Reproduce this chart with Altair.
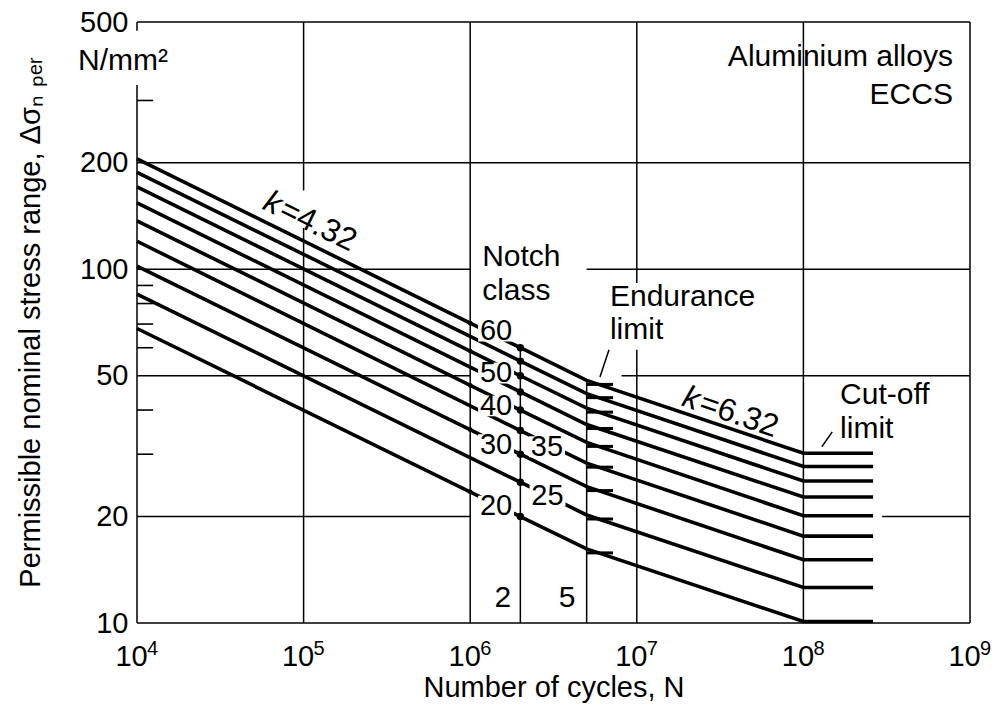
import altair as alt
import pandas as pd

FONT = "Liberation Sans"

# Notch classes: stress range (N/mm²) at 2·10^6 cycles
classes = [60, 55, 50, 45, 40, 35, 30, 25, 20]
# stress range of each class curve at its corner points
s_start = [205, 188, 171, 154, 137, 120, 102, 85, 68]                  # N = 10^4
s_endurance = [48.5, 44.5, 40.5, 36.4, 32.4, 28.3, 24.3, 20.2, 16.2]    # N = 5·10^6
s_cutoff = [30.2, 27.7, 25.2, 22.7, 20.1, 17.6, 15.1, 12.6, 10.1]       # N = 10^8
n_start, n_class, n_endurance, n_cutoff, n_end = 1e4, 2e6, 5e6, 1e8, 2.62e8

# curves whose class number is printed left of the 2·10^6 line
labeled = [60, 50, 40, 30, 20]
s_labeled_1e6 = [70.4, 58.7, 47.0, 35.2, 23.5]

x_ticks = [1e4, 1e5, 1e6, 1e7, 1e8, 1e9]
x_exponents = ["4", "5", "6", "7", "8", "9"]
y_ticks = [10, 20, 50, 100, 200, 500]
y_minor = [30, 40, 60, 70, 80, 90, 300]

# grid and frame pieces (n1, n2, s1, s2)
seg_n1 = [1e4, 1e4, 5e6, 1e4, 8.1e6, 1e4, 2.97e8,
          1e5, 1e5, 1e6, 1e7, 1e7, 1e8, 2e6, 5e6,
          1e4, 1e9, 1e4, 1e4, 1e4]
seg_n2 = [1e9, 1e6, 1e9, 1e6, 1e9, 1e6, 1e9,
          1e5, 1e5, 1e6, 1e7, 1e7, 1e8, 2e6, 5e6,
          1e9, 1e9, 1e9, 1e4, 1e4]
seg_s1 = [200, 100, 100, 50, 50, 20, 20,
          10, 167, 10, 10, 91.4, 10, 10, 10,
          500, 10, 10, 10, 472]
seg_s2 = [200, 100, 100, 50, 50, 20, 20,
          130.9, 500, 500, 59.2, 500, 500, 60, 48.5,
          500, 500, 10, 332, 500]

# leader strokes for "Endurance limit" and "Cut-off limit"
lead_n1 = [6.01e6, 1.29e8]
lead_n2 = [6.81e6, 1.49e8]
lead_s1 = [49.6, 31.5]
lead_s2 = [59.2, 34.7]

# class numbers printed on the curves
cl_text = ["60", "50", "40", "30", "20", "35", "25"]
cl_n = [1.43e6, 1.43e6, 1.43e6, 1.43e6, 1.43e6, 2.89e6, 2.91e6]
cl_s = [66.9, 50.9, 41.1, 31.9, 21.4, 31.5, 22.9]

# free annotations, left aligned
left_text = ["Notch", "class", "Endurance", "limit", "Cut-off", "limit", "N/mm²"]
left_n = [1.18e6, 1.18e6, 6.9e6, 6.9e6, 1.66e8, 1.66e8, 4430]
left_s = [108.3, 86.8, 83.5, 67.3, 44.1, 35.4, 388]
# right aligned
right_text = ["Aluminium alloys", "ECCS"]
right_n = [7.9e8, 7.9e8]
right_s = [397, 311]
# centred
mid_text = ["2", "5"]
mid_n = [1.57e6, 3.81e6]
mid_s = [11.77, 11.77]

xs = alt.Scale(type="log", domain=[1e4, 1e9], nice=False)
ys = alt.Scale(type="log", domain=[10, 500], nice=False)

x_axis = alt.Axis(values=x_ticks, labelExpr="'10'", grid=False, ticks=False,
                  domain=False, labelPadding=42, labelBaseline="alphabetic",
                  labelOffset=-6, labelFont=FONT, labelFontSize=29, labelColor="black",
                  labelFlush=False, labelOverlap=False,
                  title="Number of cycles, N", titleFont=FONT, titleFontSize=29,
                  titleFontWeight="normal", titleColor="black",
                  titleBaseline="alphabetic", titleY=73)
y_axis = alt.Axis(values=y_ticks, format="d", grid=False, ticks=False, domain=False,
                  labelPadding=9, labelFont=FONT, labelFontSize=29,
                  labelColor="black", labelFlush=False, labelOverlap=False,
                  title="Permissible nominal stress range, Δσₙ ₚₑᵣ",
                  titleFont=FONT, titleFontSize=29, titleFontWeight="normal",
                  titleColor="black", titleAngle=270, titleAlign="center",
                  titleBaseline="middle", titleX=-107, titleY=300)


def X(field):
    return alt.X(field, scale=xs, axis=x_axis)


def Y(field):
    return alt.Y(field, scale=ys, axis=y_axis)


rows = []
for c, a, e, f in zip(classes, s_start, s_endurance, s_cutoff):
    for n, s in [(n_start, a), (n_class, c), (n_endurance, e), (n_cutoff, f), (n_end, f)]:
        rows.append({"cls": c, "N": n, "S": s})
curves_df = pd.DataFrame(rows)

curves = alt.Chart(curves_df).mark_line(color="black", strokeWidth=3.6).encode(
    x=X("N:Q"), y=Y("S:Q"), detail="cls:N",
)

seg_df = pd.DataFrame({"N": seg_n1, "n2": seg_n2, "S": seg_s1, "s2": seg_s2})
grid = alt.Chart(seg_df).mark_rule(color="black", strokeWidth=1.5).encode(
    x=X("N:Q"), x2="n2:Q", y=Y("S:Q"), y2="s2:Q",
)

minor_df = pd.DataFrame({"S": y_minor, "N": [1e4] * len(y_minor), "n2": [1.25e4] * len(y_minor)})
minor = alt.Chart(minor_df).mark_rule(color="black", strokeWidth=1.6).encode(
    x=X("N:Q"), x2="n2:Q", y=Y("S:Q"),
)

endur_df = pd.DataFrame({"S": s_endurance, "N": [n_endurance] * len(classes),
                         "n2": [7.2e6] * len(classes)})
endur = alt.Chart(endur_df).mark_rule(color="black", strokeWidth=3, yOffset=4).encode(
    x=X("N:Q"), x2="n2:Q", y=Y("S:Q"),
)

lead_df = pd.DataFrame({"N": lead_n1, "n2": lead_n2, "S": lead_s1, "s2": lead_s2})
leads = alt.Chart(lead_df).mark_rule(color="black", strokeWidth=1.5).encode(
    x=X("N:Q"), x2="n2:Q", y=Y("S:Q"), y2="s2:Q",
)

dots2_df = pd.DataFrame({"N": [n_class] * len(classes), "S": classes})
dots2 = alt.Chart(dots2_df).mark_circle(color="black", opacity=1, size=55).encode(
    x=X("N:Q"), y=Y("S:Q"),
)
dots1_df = pd.DataFrame({"N": [1e6] * len(labeled), "S": s_labeled_1e6})
dots1 = alt.Chart(dots1_df).mark_circle(color="black", opacity=1, size=22).encode(
    x=X("N:Q"), y=Y("S:Q"),
)

cl_df = pd.DataFrame({"t": cl_text, "N": cl_n, "S": cl_s})
masks = alt.Chart(cl_df).mark_point(
    shape="M-1,-0.58L1,-0.58L1,0.58L-1,0.58Z", filled=True, color="white",
    opacity=1, size=1296, strokeWidth=0,
).encode(x=X("N:Q"), y=Y("S:Q"))
cl_labels = alt.Chart(cl_df).mark_text(font=FONT, fontSize=29, color="black",
                                       align="center", baseline="middle").encode(
    x=X("N:Q"), y=Y("S:Q"), text="t:N",
)

# powers of ten next to the "10" tick labels
exp_df = pd.DataFrame({"N": x_ticks, "S": [10] * len(x_ticks), "e": x_exponents})
exponents = alt.Chart(exp_df).mark_text(font=FONT, fontSize=20, color="black",
                                        align="left", baseline="top", dx=10, dy=16).encode(
    x=X("N:Q"), y=Y("S:Q"), text="e:N",
)


def notes(texts, ns, ss, align):
    df = pd.DataFrame({"t": texts, "N": ns, "S": ss})
    return alt.Chart(df).mark_text(font=FONT, fontSize=30, color="black",
                                   align=align, baseline="middle").encode(
        x=X("N:Q"), y=Y("S:Q"), text="t:N",
    )


# slope labels: italic k, then "=value", both rotated along the curves
k_n = [7.31e4, 2.39e7]
k_s = [150, 42.3]
k_rest = ["=4.32", "=6.32"]
k_angle = [26, 19]


def slope_label(i):
    df = pd.DataFrame({"N": [k_n[i]], "S": [k_s[i]], "k": ["k"], "rest": [k_rest[i]]})
    base = alt.Chart(df).encode(x=X("N:Q"), y=Y("S:Q"))
    k = base.mark_text(font=FONT, fontSize=32, fontStyle="italic", color="black",
                       align="right", baseline="middle", angle=k_angle[i], dx=-1).encode(text="k:N")
    rest = base.mark_text(font=FONT, fontSize=32, color="black", align="left",
                          baseline="middle", angle=k_angle[i], dx=1).encode(text="rest:N")
    return k + rest


chart = alt.layer(
    curves, grid, minor, endur, leads, dots1, dots2, masks, cl_labels, exponents,
    notes(left_text, left_n, left_s, "left"),
    notes(right_text, right_n, right_s, "right"),
    notes(mid_text, mid_n, mid_s, "center"),
    slope_label(0), slope_label(1),
).properties(
    width=833, height=601,
    autosize=alt.AutoSizeParams(type="none"),
    padding={"left": 137, "top": 22, "right": 27, "bottom": 81},
    background="white",
).configure_view(stroke=None)

chart.save("out.html", embed_options={"renderer": "svg", "actions": False})
